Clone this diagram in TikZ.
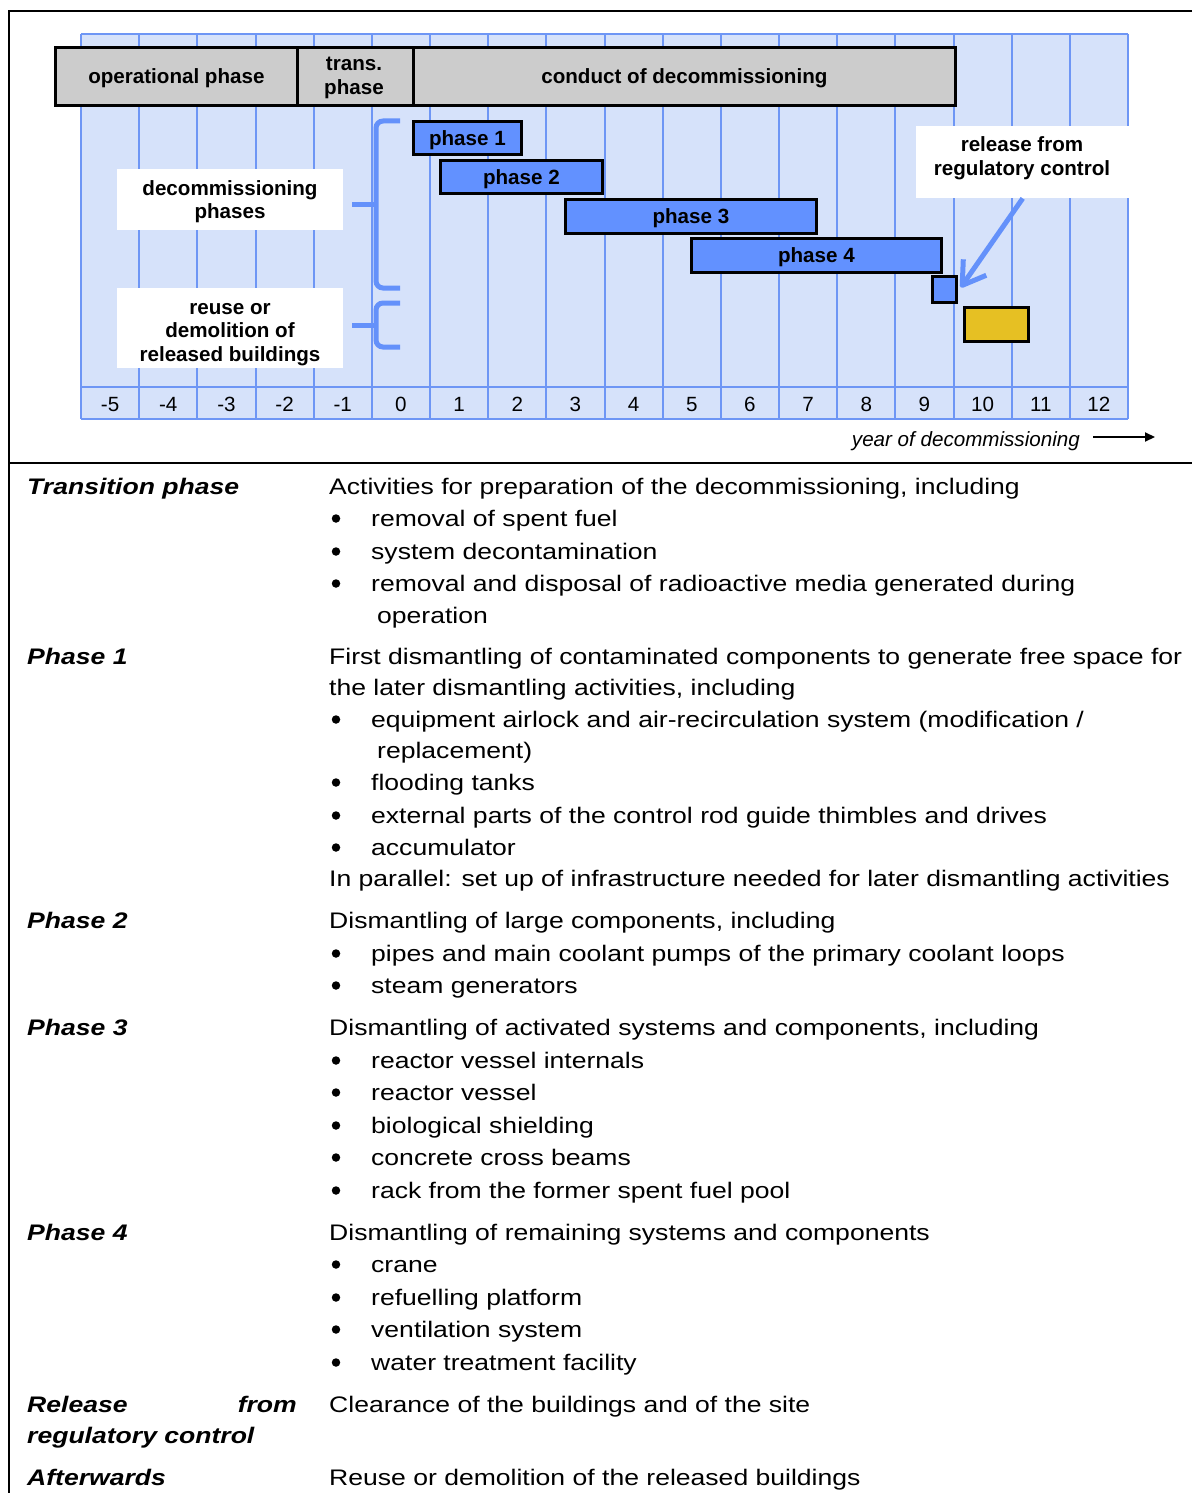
\documentclass[tikz,border=0pt]{standalone}
\usepackage{fontspec}
\setmainfont{Liberation Sans}
\newfontfamily\tabfont[FakeStretch=1.18]{Liberation Sans}
\usetikzlibrary{arrows.meta}
\definecolor{gridfill}{RGB}{214,226,250}
\definecolor{gridline}{RGB}{110,150,245}
\definecolor{barblue}{RGB}{98,145,255}
\definecolor{bargray}{RGB}{204,204,204}
\definecolor{baryellow}{RGB}{230,192,35}
\definecolor{bracecol}{RGB}{100,145,250}
\begin{document}
\begin{tikzpicture}[x=1pt,y=-1pt,
  cf/.style={font=\fontsize{20.6}{24}\selectfont\bfseries},
  boxbase/.style={draw=black, line width=2.8pt, inner sep=0pt, anchor=north west, cf, text height=15pt, text depth=0pt},
  graybar/.style={boxbase, fill=bargray},
  bluebar/.style={boxbase, fill=barblue},
  yellowbar/.style={boxbase, fill=baryellow},
  whitebox/.style={fill=white, inner sep=0pt, anchor=north west},
  cline/.style={font=\fontsize{20.6}{24}\selectfont\bfseries, anchor=base, inner sep=0pt},
  axnum/.style={font=\fontsize{20.6}{24}\selectfont, anchor=base, inner sep=0pt},
  tt/.style={font=\tabfont\fontsize{22.5}{27}\selectfont, anchor=base west, inner sep=0pt},
  tl/.style={font=\tabfont\fontsize{22.5}{27}\selectfont\bfseries\itshape, anchor=base west, inner sep=0pt},
  bul/.style={circle, fill=black, inner sep=0pt, minimum size=8.5pt, yshift=7.5pt},
  brace/.style={draw=bracecol, line width=5pt, rounded corners=7pt},
  frameline/.style={line width=2pt},
  gl/.style={gridline, line width=2pt},
]
\useasboundingbox (0,0) rectangle (1192,1493);
\fill[white] (0,0) rectangle (1192,1493);

% ---------- grid ----------
\fill[gridfill] (81,34) rectangle (1128,419);
\foreach \i in {0,...,18} \draw[gl] ({81+58.1667*\i},34) -- ({81+58.1667*\i},419);
\draw[gl] (81,34) -- (1128,34);
\draw[gl] (81,387) -- (1128,387);
\draw[gl] (81,419) -- (1128,419);

% ---------- top bars ----------
\node[graybar, minimum width=242pt, minimum height=58pt] (op) at (54,46) {operational phase};
\node[graybar, minimum width=116pt, minimum height=58pt] (tr) at (296,46) {};
\node[cline] (tr1) at (354,71) {trans.};
\node[cline] (tr2) at (354,95) {phase};
\node[graybar, minimum width=542pt, minimum height=58pt] (cd) at (412,46) {conduct of decommissioning};

% ---------- white label boxes ----------
\node[whitebox, minimum width=226pt, minimum height=61pt] (dp) at (117,169) {};
\node[cline] (dp1) at (230,195) {decommissioning};
\node[cline] (dp2) at (230,218) {phases};
\node[whitebox, minimum width=226pt, minimum height=80pt] (rb) at (117,288) {};
\node[cline] (rb1) at (230,314) {reuse or};
\node[cline] (rb2) at (230,337) {demolition of};
\node[cline] (rb3) at (230,361) {released buildings};
\node[whitebox, minimum width=213pt, minimum height=72pt] (rel) at (916,126) {};
\node[cline] (rel1) at (1022,151) {release from};
\node[cline] (rel2) at (1022,175) {regulatory control};

% ---------- braces ----------
\draw[brace] (400,121) -| (376,288) -- (400,288);
\draw[brace] (376,204) -- (352,204);
\draw[brace] (400,303) -| (376,347) -- (400,347);
\draw[brace] (376,325) -- (352,325);

% ---------- phase bars ----------
\node[bluebar, minimum width=108pt, minimum height=33pt] (p1) at (412,120) {phase 1};
\node[bluebar, minimum width=162pt, minimum height=33pt] (p2) at (439,159) {phase 2};
\node[bluebar, minimum width=251pt, minimum height=34pt] (p3) at (564,198) {phase 3};
\node[bluebar, minimum width=250pt, minimum height=34pt] (p4) at (690,237) {phase 4};
\node[bluebar, minimum width=24pt, minimum height=26pt] (sq) at (931,275) {};
\node[yellowbar, minimum width=64pt, minimum height=34pt] (yb) at (963,306) {};

\draw[bracecol, line width=5pt, line join=round, -{Straight Barb[length=22pt,width=28pt,line join=round]}] (rel.south) -- ([shift={(3,-2)}]sq.east);

% ---------- axis numbers ----------
\foreach \i in {0,...,17} {
  \pgfmathtruncatemacro\lab{\i-5}
  \node[axnum] (n\i) at ({81+58.1667*(\i+0.5)},411) {\lab};
}
\node[font=\fontsize{20.6}{24}\selectfont\itshape, anchor=base east, inner sep=0pt] (yr) at (1080,446) {year of decommissioning};
\coordinate (ys) at (1093,437);
\coordinate (ye) at (1155,437);
\draw[line width=2pt, -{Triangle[length=10pt,width=9pt]}] (ys) -- (ye);

% ---------- frame ----------
\draw[frameline] (1192,11) -- (9,11) -- (9,1493);
\draw[frameline] (9,463) -- (1192,463);

% ---------- table ----------
\node[tl] (l0) at (27,494) {Transition phase};
\node[tt] (a0) at (329,494) {Activities for preparation of the decommissioning, including};
\foreach \y/\t [count=\k] in {526/removal of spent fuel, 559/system decontamination, 591/removal and disposal of radioactive media generated during} {
  \node[bul] (ab\k) at (336,\y) {};
  \node[tt] (at\k) at (371,\y) {\t};
}
\node[tt] (a4) at (377,623) {operation};

\node[tl] (l1) at (27,664) {Phase 1};
\node[tt] (b0) at (329,664) {First dismantling of contaminated components to generate free space for};
\node[tt] (b1) at (329,695) {the later dismantling activities, including};
\node[bul] (bb1) at (336,727) {};
\node[tt] (bt1) at (371,727) {equipment airlock and air-recirculation system (modification /};
\node[tt] (bt1b) at (377,758) {replacement)};
\foreach \y/\t [count=\k] in {790/flooding tanks, 823/external parts of the control rod guide thimbles and drives, 855/accumulator} {
  \node[bul] (bbx\k) at (336,\y) {};
  \node[tt] (btx\k) at (371,\y) {\t};
}
\node[tt] (b9) at (329,886) {In parallel: set up of infrastructure needed for later dismantling activities};

\node[tl] (l2) at (27,928) {Phase 2};
\node[tt] (c0) at (329,928) {Dismantling of large components, including};
\foreach \y/\t [count=\k] in {961/pipes and main coolant pumps of the primary coolant loops, 993/steam generators} {
  \node[bul] (cb\k) at (336,\y) {};
  \node[tt] (ct\k) at (371,\y) {\t};
}

\node[tl] (l3) at (27,1035) {Phase 3};
\node[tt] (d0) at (329,1035) {Dismantling of activated systems and components, including};
\foreach \y/\t [count=\k] in {1068/reactor vessel internals, 1100/reactor vessel, 1133/biological shielding, 1165/concrete cross beams, 1198/rack from the former spent fuel pool} {
  \node[bul] (db\k) at (336,\y) {};
  \node[tt] (dt\k) at (371,\y) {\t};
}

\node[tl] (l4) at (27,1240) {Phase 4};
\node[tt] (e0) at (329,1240) {Dismantling of remaining systems and components};
\foreach \y/\t [count=\k] in {1272/crane, 1305/refuelling platform, 1337/ventilation system, 1370/water treatment facility} {
  \node[bul] (eb\k) at (336,\y) {};
  \node[tt] (et\k) at (371,\y) {\t};
}

\node[tl] (l5a) at (27,1412) {Release};
\node[tl, anchor=base east] (l5b) at (297,1412) {from};
\node[tl] (l5c) at (27,1443) {regulatory control};
\node[tt] (f0) at (329,1412) {Clearance of the buildings and of the site};

\node[tl] (l6) at (27,1485) {Afterwards};
\node[tt] (g0) at (329,1485) {Reuse or demolition of the released buildings};
\end{tikzpicture}
\end{document}
